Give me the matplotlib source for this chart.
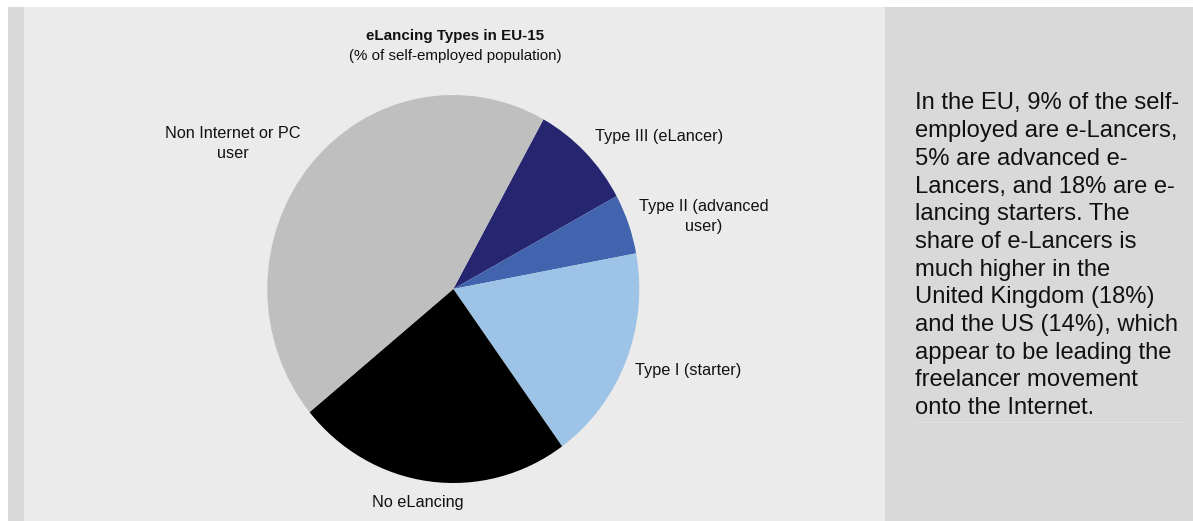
import matplotlib
matplotlib.use("Agg")
import matplotlib.pyplot as plt
from matplotlib.patches import Rectangle

plt.rcParams['font.family'] = ['Liberation Sans', 'DejaVu Sans']

# Shares of the self-employed population (EU-15), in %
categories = ["Type III (eLancer)", "Type II (advanced user)", "Type I (starter)",
              "No eLancing", "Non Internet or PC user"]
shares = [9, 5, 18, 24, 44]
colors = ["#262670", "#4263ad", "#9dc3e6", "#000000", "#bfbfbf"]

label_lines = {
    "Type III (eLancer)": ["Type III (eLancer)"],
    "Type II (advanced user)": ["Type II (advanced", "user)"],
    "Type I (starter)": ["Type I (starter)"],
    "No eLancing": ["No eLancing"],
    "Non Internet or PC user": ["Non Internet or PC", "user"],
}

title = "eLancing Types in EU-15"
subtitle = "(% of self-employed population)"

note_lines = [
    "In the EU, 9% of the self-",
    "employed are e-Lancers,",
    "5% are advanced e-",
    "Lancers, and 18% are e-",
    "lancing starters. The",
    "share of e-Lancers is",
    "much higher in the",
    "United Kingdom (18%)",
    "and the US (14%), which",
    "appear to be leading the",
    "freelancer movement",
    "onto the Internet.",
]

W, H = 1193, 521
fig = plt.figure(figsize=(W / 100, H / 100), dpi=100)
fig.patch.set_facecolor("white")

# Background panels in pixel coordinates
bg = fig.add_axes([0, 0, 1, 1])
bg.set_xlim(0, W)
bg.set_ylim(H, 0)
bg.axis("off")
bg.add_patch(Rectangle((8, 7), 16, H - 7, facecolor="#dadada", edgecolor="none"))
bg.add_patch(Rectangle((24, 7), 861, H - 7, facecolor="#ebebeb", edgecolor="none"))
bg.add_patch(Rectangle((885, 7), W - 885, H - 7, facecolor="#d9d9d9", edgecolor="none"))

txt = "#111111"
bg.text(455, 36, title, ha="center", va="center", fontsize=10.9,
        fontweight="bold", color=txt)
bg.text(455, 56, subtitle, ha="center", va="center", fontsize=10.9, color=txt)

# Slice label anchors (centre of first line) and line pitch
label_pos = {
    "Type III (eLancer)": (659, 137),
    "Type II (advanced user)": (704, 206),
    "Type I (starter)": (688, 370),
    "No eLancing": (418, 502),
    "Non Internet or PC user": (233, 133),
}
for name in categories:
    x0, y0 = label_pos[name]
    for i, line in enumerate(label_lines[name]):
        bg.text(x0, y0 + i * 20.5, line, ha="center", va="center",
                fontsize=11.7, color=txt)

# Commentary block on the right
for i, line in enumerate(note_lines):
    bg.text(915, 103.5 + i * 27.7, line, ha="left", va="center",
            fontsize=17.1, color=txt)
bg.plot([915, 1185], [421.5, 421.5], color="#e2e2e2", lw=0.8)

# Pie chart
left, right, top, bottom = 267.3, 639.3, 95.0, 483.0
ax = fig.add_axes([left / W, 1 - bottom / H, (right - left) / W, (bottom - top) / H])
ax.pie(shares, colors=colors, startangle=61, counterclock=False,
       wedgeprops=dict(linewidth=0, antialiased=True))
ax.set_aspect("auto")
ax.set_xlim(-1, 1)
ax.set_ylim(-1, 1)
ax.axis("off")

fig.savefig("out.png", dpi=100, facecolor=fig.get_facecolor())
